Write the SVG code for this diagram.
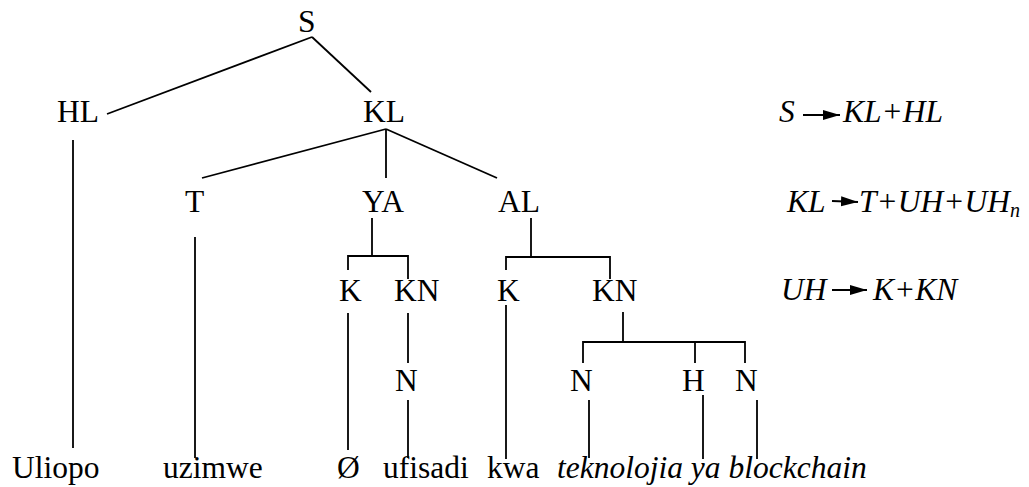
<svg xmlns="http://www.w3.org/2000/svg" width="1029" height="487" viewBox="0 0 1029 487">
<style>
text{font-family:'Liberation Serif','DejaVu Serif',serif;font-size:31.5px;fill:#000}
.it{font-style:italic}
.sub{font-size:20px}
.c line,.c polyline{stroke:#000;stroke-width:1.8;fill:none}
.ar{stroke:#000;stroke-width:2;fill:none}
</style>
<defs>
<marker id="ah" markerUnits="userSpaceOnUse" markerWidth="18" markerHeight="12" refX="17" refY="5" orient="auto">
<path d="M0,0 L17,5 L0,10 Z" fill="#000"/>
</marker>
</defs>
<g id="connectors" class="c">
<line x1="312" y1="37" x2="107" y2="114"/>
<line x1="312" y1="37" x2="371" y2="92"/>
<line x1="386" y1="129" x2="202" y2="178"/>
<line x1="386" y1="129" x2="386" y2="178"/>
<line x1="386" y1="129" x2="497" y2="178"/>
<line x1="73" y1="140" x2="73" y2="448"/>
<line x1="195" y1="237" x2="195" y2="458"/>
<line x1="372" y1="218" x2="372" y2="256"/>
<polyline points="348,270 348,256 408,256 408,279"/>
<line x1="531" y1="218" x2="531" y2="257"/>
<polyline points="506,270 506,257 610,257 610,279"/>
<line x1="348" y1="313" x2="348" y2="450"/>
<line x1="408" y1="313" x2="408" y2="363"/>
<line x1="408" y1="400" x2="408" y2="458"/>
<line x1="506" y1="305" x2="506" y2="459"/>
<line x1="623" y1="312" x2="623" y2="342"/>
<polyline points="583,363 583,342 745,342 745,363"/>
<line x1="695" y1="342" x2="695" y2="363"/>
<line x1="589" y1="400" x2="589" y2="458"/>
<line x1="703" y1="395" x2="703" y2="459"/>
<line x1="757" y1="400" x2="757" y2="459"/>
</g>
<g id="n-S"><text x="298" y="32">S</text></g>
<g id="n-HL"><text x="57" y="122">HL</text></g>
<g id="n-KL"><text x="363" y="122">KL</text></g>
<g id="n-T"><text x="185" y="212">T</text></g>
<g id="n-YA"><text x="362" y="212">YA</text></g>
<g id="n-AL"><text x="498" y="212">AL</text></g>
<g id="n-K1"><text x="339" y="301">K</text></g>
<g id="n-KN1"><text x="394" y="301">KN</text></g>
<g id="n-K2"><text x="497" y="301">K</text></g>
<g id="n-KN2"><text x="592" y="301">KN</text></g>
<g id="n-N1"><text x="395" y="391">N</text></g>
<g id="n-N2"><text x="570" y="391">N</text></g>
<g id="n-H"><text x="682" y="391">H</text></g>
<g id="n-N3"><text x="735" y="391">N</text></g>
<g id="w-uliopo"><text x="12" y="478">Uliopo</text></g>
<g id="w-uzimwe"><text x="163" y="478">uzimwe</text></g>
<g id="w-null"><text x="337" y="478">Ø</text></g>
<g id="w-ufisadi"><text x="383" y="478">ufisadi</text></g>
<g id="w-kwa"><text x="487" y="478">kwa</text></g>
<g id="w-tek"><text x="557" y="478" class="it">teknolojia ya blockchain</text></g>
<g id="rules">
<text x="779" y="122" class="it">S</text>
<line class="ar" x1="803" y1="115" x2="840" y2="115" marker-end="url(#ah)"/>
<text x="843" y="122" class="it">KL+HL</text>
<text x="787" y="212" class="it">KL</text>
<line class="ar" x1="832" y1="201" x2="858" y2="202" marker-end="url(#ah)"/>
<text x="859" y="212" class="it">T+UH+UH<tspan class="sub" dy="5">n</tspan></text>
<text x="781" y="300" class="it">UH</text>
<line class="ar" x1="832" y1="290" x2="867" y2="290" marker-end="url(#ah)"/>
<text x="873" y="300" class="it">K+KN</text>
</g>
</svg>
